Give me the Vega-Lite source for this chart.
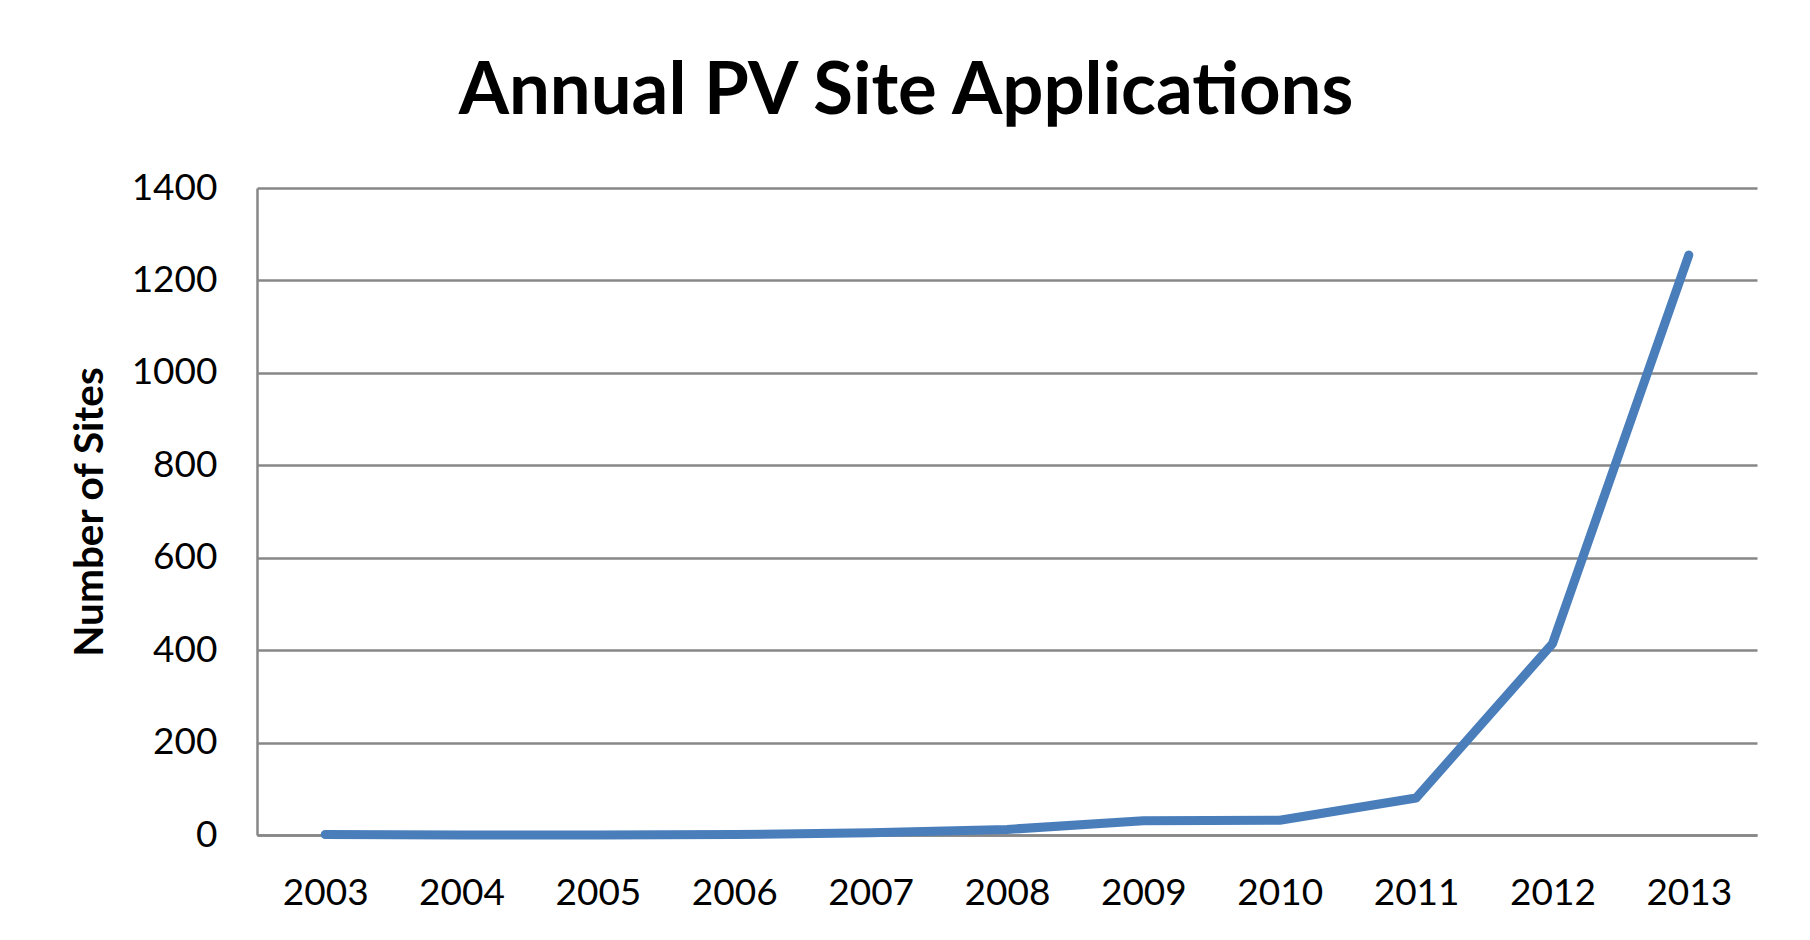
{
  "$schema": "https://vega.github.io/schema/vega-lite/v6.json",
  "autosize": {"type": "none"},
  "padding": {"left": 257, "top": 188, "right": 53, "bottom": 105},
  "width": 1500,
  "height": 647,
  "background": "white",
  "title": {
    "text": "Annual PV Site Applications",
    "font": "Lato",
    "fontSize": 72.5,
    "fontWeight": "bold",
    "color": "#000000",
    "anchor": "middle",
    "frame": "group",
    "dx": -101,
    "offset": 40
  },
  "data": {
    "values": [
      {"year": "2003", "sites": 1},
      {"year": "2004", "sites": 0},
      {"year": "2005", "sites": 0},
      {"year": "2006", "sites": 1},
      {"year": "2007", "sites": 5},
      {"year": "2008", "sites": 12},
      {"year": "2009", "sites": 31},
      {"year": "2010", "sites": 32},
      {"year": "2011", "sites": 80},
      {"year": "2012", "sites": 414},
      {"year": "2013", "sites": 1255}
    ]
  },
  "mark": {"type": "line", "color": "#4a7ebb", "strokeWidth": 9, "strokeCap": "round", "strokeJoin": "round"},
  "encoding": {
    "x": {
      "field": "year",
      "type": "ordinal",
      "scale": {"type": "point", "padding": 0.5},
      "axis": {
        "title": null,
        "labelAngle": 0,
        "labelFont": "Lato",
        "labelFontSize": 37,
        "labelColor": "#000000",
        "labelPadding": 40,
        "ticks": false,
        "domainColor": "#878787",
        "domainWidth": 2.5,
        "grid": false
      }
    },
    "y": {
      "field": "sites",
      "type": "quantitative",
      "scale": {"domain": [0, 1400], "nice": false},
      "axis": {
        "title": "Number of Sites",
        "titleFont": "Lato",
        "titleFontSize": 40.5,
        "titleFontWeight": "bold",
        "titleColor": "#000000",
        "titlePadding": 20,
        "format": "d",
        "values": [0, 200, 400, 600, 800, 1000, 1200, 1400],
        "labelFont": "Lato",
        "labelFontSize": 37,
        "labelColor": "#000000",
        "labelPadding": 40,
        "ticks": false,
        "domainColor": "#878787",
        "domainWidth": 2.5,
        "gridColor": "#878787",
        "gridWidth": 2.5
      }
    }
  },
  "config": {"view": {"stroke": null}}
}
